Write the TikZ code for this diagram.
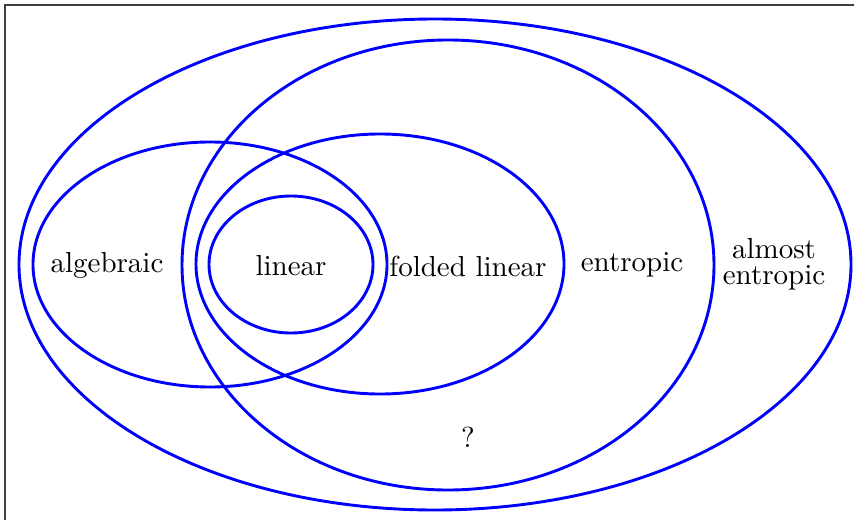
\documentclass[tikz,border=0pt]{standalone}
\begin{document}
\begin{tikzpicture}[x=0.345pt,y=-0.345pt,
  setring/.style={draw=blue,line width=1pt},
  lbl/.style={font=\fontsize{10}{11}\selectfont,align=center,inner sep=0pt}]
\useasboundingbox (0,0) rectangle (854,520);
\draw[line width=0.4pt,black!75] (5,520) -- (5,5) -- (854,5);
\draw[setring] (435,264.5) ellipse [x radius=416, y radius=245.5];
\draw[setring] (448,265) ellipse [x radius=266, y radius=225];
\draw[setring] (210,264.5) ellipse [x radius=177, y radius=122.5];
\draw[setring] (380,264) ellipse [x radius=184, y radius=130];
\draw[setring] (291,264.5) ellipse [x radius=82, y radius=68.5];
\node[lbl] (alg) at (107,265) {algebraic};
\node[lbl] (lin) at (291,266) {linear};
\node[lbl] (fold) at (468,266) {folded linear};
\node[lbl] (ent) at (632,265) {entropic};
\node[lbl] (aent) at (774,264) {almost\\[-2pt]entropic};
\node[lbl] (q) at (468,437) {?};
\end{tikzpicture}
\end{document}
